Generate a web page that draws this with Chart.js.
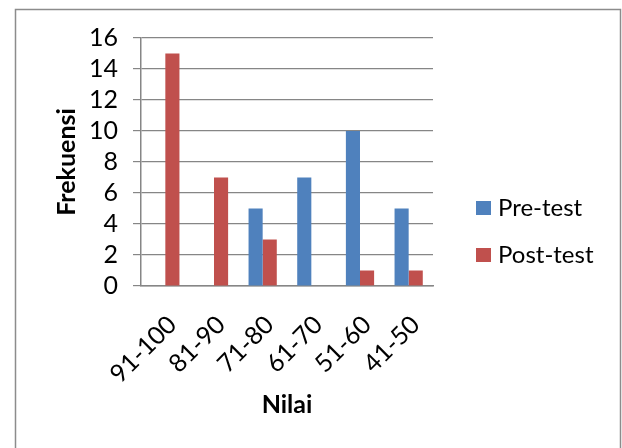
<!DOCTYPE html>
<html>
<head>
<meta charset="utf-8">
<script src="https://cdn.jsdelivr.net/npm/chart.js@4/dist/chart.umd.min.js"></script>
<style>
    html, body { margin: 0; padding: 0; background: #fff; }
    #wrap { width: 622px; height: 448px; position: relative; }
</style>
</head>
<body>
<div id="wrap"><canvas id="myChart" width="622" height="448"></canvas></div>
<script>
const categories = ["91-100", "81-90", "71-80", "61-70", "51-60", "41-50"];
const pre_test = [0, 0, 5, 7, 10, 5];
const post_test = [15, 7, 3, 0, 1, 1];
const y_ticks = [0, 2, 4, 6, 8, 10, 12, 14, 16];

const font_family = "Lato, 'Noto Sans', sans-serif";
const grid_color = "#868686";

// frame round the whole picture + legend on the right
const frame_legend = {
    id: "frameLegend",
    beforeDraw(chart) {
        const c = chart.ctx;
        c.save();
        c.fillStyle = "#fff";
        c.fillRect(0, 0, chart.width, chart.height);
        c.strokeStyle = "#8c8c8c";
        c.lineWidth = 1.5;
        c.strokeRect(15.5, 9.5, 605, 450);
        c.restore();
    },
    afterDraw(chart) {
        const c = chart.ctx;
        c.save();
        c.font = "24px " + font_family;
        c.textBaseline = "middle";
        chart.data.datasets.forEach((ds, i) => {
            const y = 201 + i * 47;
            c.fillStyle = ds.backgroundColor;
            c.fillRect(476, y, 15, 14);
            c.fillStyle = "#000";
            c.fillText(ds.label, 498, y + 7);
        });
        c.restore();
    }
};

const ctx = document.getElementById("myChart").getContext("2d");
const myChart = new Chart(ctx, {
    type: "bar",
    data: {
        labels: categories,
        datasets: [
            {
                label: "Pre-test",
                data: pre_test,
                backgroundColor: "#4F81BD",
                categoryPercentage: 0.58,
                barPercentage: 1.0,
            },
            {
                label: "Post-test",
                data: post_test,
                backgroundColor: "#C0504D",
                categoryPercentage: 0.58,
                barPercentage: 1.0,
            },
        ],
    },
    options: {
        responsive: false,
        animation: false,
        layout: { padding: { left: 0, right: 189, top: 38, bottom: 0 } },
        plugins: {
            legend: { display: false },
            tooltip: { enabled: false },
        },
        scales: {
            x: {
                afterFit: (scale) => { scale.height = 162; },
                grid: { display: false },
                border: { color: grid_color, width: 1.5 },
                ticks: {
                    color: "#000",
                    font: { family: font_family, size: 25 },
                    minRotation: 45,
                    maxRotation: 45,
                    autoSkip: false,
                    labelOffset: 7,
                    padding: 16,
                },
                title: {
                    display: true,
                    text: "Nilai",
                    color: "#000",
                    font: { family: font_family, size: 25, weight: "bold" },
                    padding: { top: 0, bottom: 28 },
                },
            },
            y: {
                min: 0,
                max: 16,
                afterFit: (scale) => { scale.width = 141; },
                afterBuildTicks: (scale) => { scale.ticks = y_ticks.map(v => ({ value: v })); },
                grid: { color: grid_color, lineWidth: 1.2, tickLength: 8 },
                border: { color: grid_color, width: 1.5 },
                ticks: {
                    color: "#000",
                    font: { family: font_family, size: 25 },
                    autoSkip: false,
                    padding: 15,
                },
                title: {
                    display: true,
                    text: "Frekuensi",
                    color: "#000",
                    font: { family: font_family, size: 25, weight: "bold" },
                    padding: { top: 52, bottom: 0 },
                },
            },
        },
    },
    plugins: [frame_legend],
});
</script>
</body>
</html>
